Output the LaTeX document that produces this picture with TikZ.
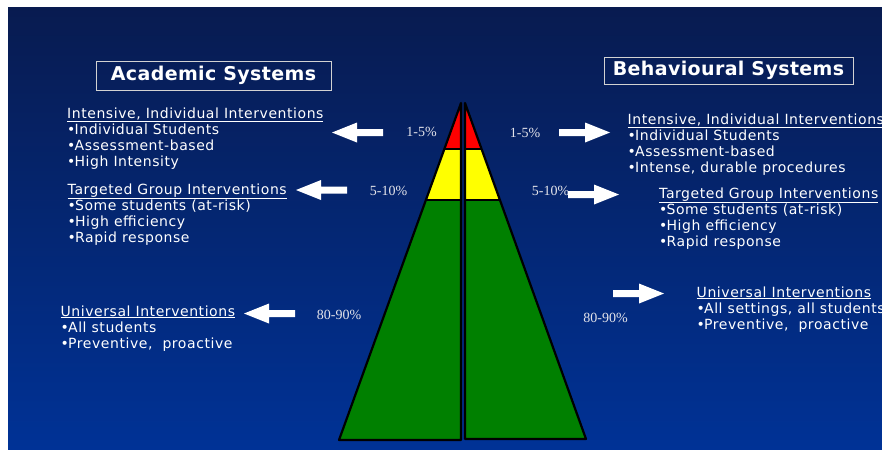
\documentclass[tikz,border=0pt]{standalone}
\usepackage{fontspec}
\setmainfont{DejaVu Sans}
\newfontfamily\tierfont[LetterSpace=4]{DejaVu Sans}
\newfontfamily\headfont[LetterSpace=2]{DejaVu Sans}
\newfontfamily\pctfont{Liberation Serif}
\newcommand{\tbul}{•\kern-0.8pt}

\definecolor{SlideTop}{RGB}{8,27,80}
\definecolor{SlideBottom}{RGB}{0,50,150}
\definecolor{TierRed}{RGB}{255,0,0}
\definecolor{TierYellow}{RGB}{255,255,0}
\definecolor{TierGreen}{RGB}{0,128,0}
\definecolor{PctGray}{RGB}{228,228,234}

\tikzset{
  heading/.style={draw=gray!35, line width=0.9pt, text=white, inner sep=0pt,
    font=\headfont\bfseries\fontsize{19}{21}\selectfont},
  % anchored on the baseline of the last line
  tiertext/.style={anchor=base west, align=left, text=white, inner sep=0pt,
    font=\tierfont\fontsize{14}{16}\selectfont},
  pct/.style={text=PctGray, inner sep=0pt, font=\pctfont\fontsize{14}{16}\selectfont},
  tier/.style={draw=black, line width=2.2pt, line join=round},
  blockarrow/.pic={
    \fill[white] (0,-3.5) -- (26,-3.5) -- (26,-10) -- (51,0) -- (26,10) -- (26,3.5) -- (0,3.5) -- cycle;
  },
}

\begin{document}
\begin{tikzpicture}[x=1pt,y=1pt,yscale=-1,xscale=1]
	\useasboundingbox (0,0) rectangle (882,450);

	% Slide background
	\fill[white] (0,0) rectangle (882,450);
	\shade[top color=SlideTop, bottom color=SlideBottom] (8,7) rectangle (882,449);

	% Left half of the pyramid (red / yellow / green bands)
	\begin{scope}
		\clip (461,103) -- (461,440) -- (339,440) -- cycle;
		\fill[TierRed] (330,95) rectangle (470,149);
		\fill[TierYellow] (330,149) rectangle (470,200);
		\fill[TierGreen] (330,200) rectangle (470,445);
	\end{scope}
	\draw[tier] (444.4,149) -- (461,149);
	\draw[tier] (425.9,200) -- (461,200);
	\draw[tier] (461,103) -- (461,440) -- (339,440) -- cycle;

	% Right half of the pyramid
	\begin{scope}
		\clip (465,103) -- (465,439) -- (586,439) -- cycle;
		\fill[TierRed] (460,95) rectangle (600,149);
		\fill[TierYellow] (460,149) rectangle (600,200);
		\fill[TierGreen] (460,200) rectangle (600,445);
	\end{scope}
	\draw[tier] (465,149) -- (481.6,149);
	\draw[tier] (465,200) -- (499.9,200);
	\draw[tier] (465,103) -- (465,439) -- (586,439) -- cycle;

	% Column headings
	\node[heading, minimum width=235pt, minimum height=29pt] (acad) at (213.5,75.5) {Academic Systems};
	\node[heading, minimum width=249pt, minimum height=27pt] (behav) at (728.5,70.5) {Behavioural Systems};

	% Percentages beside the pyramid
	\node[pct] (pctL1) at (421.5,132) {1-5\%};
	\node[pct] (pctR1) at (525,132.5) {1-5\%};
	\node[pct] (pctL2) at (388.5,190.5) {5-10\%};
	\node[pct] (pctR2) at (550.5,191) {5-10\%};
	\node[pct] (pctL3) at (339,315) {80-90\%};
	\node[pct] (pctR3) at (605.5,318) {80-90\%};

	% Block arrows, left side pointing out to the left
	\pic[rotate=180] at (383,132.5) {blockarrow};
	\pic[rotate=180] at (347,190) {blockarrow};
	\pic[rotate=180] at (295,313.5) {blockarrow};

	% Block arrows, right side pointing out to the right
	\pic at (559,132.5) {blockarrow};
	\pic at (568,194.5) {blockarrow};
	\pic at (613,293.5) {blockarrow};

	% Academic tiers
	\node[tiertext] (acadTop) at (67,166) {\underline{Intensive, Individual Interventions}\\\tbul Individual Students\\\tbul Assessment-based\\\tbul High Intensity};
	\node[tiertext] (acadMid) at (67.5,242) {\underline{Targeted Group Interventions}\\\tbul Some students (at-risk)\\\tbul High efficiency\\\tbul Rapid response};
	\node[tiertext] (acadBase) at (60.5,348) {\underline{Universal Interventions}\\\tbul All students\\\tbul Preventive,\ \ proactive};

	% Behavioural tiers
	\node[tiertext] (behavTop) at (627.5,172) {\underline{Intensive, Individual Interventions}\\\tbul Individual Students\\\tbul Assessment-based\\\tbul Intense, durable procedures};
	\node[tiertext] (behavMid) at (659,246) {\underline{Targeted Group Interventions}\\\tbul Some students (at-risk)\\\tbul High efficiency\\\tbul Rapid response};
	\node[tiertext] (behavBase) at (696.5,329) {\underline{Universal Interventions}\\\tbul All settings, all students\\\tbul Preventive,\ \ proactive};
\end{tikzpicture}
\end{document}
